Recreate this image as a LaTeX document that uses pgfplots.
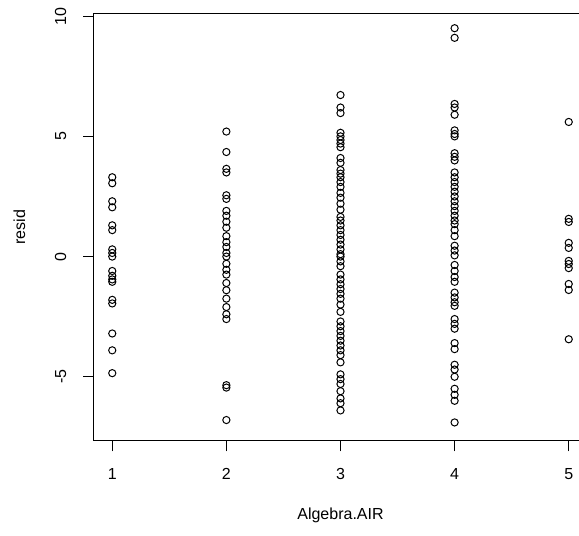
\documentclass[border=0pt]{standalone}
\usepackage{fontspec}
\setmainfont{Liberation Sans}
\usepackage{pgfplots}
\pgfplotsset{compat=1.18}
\begin{document}
\begin{tikzpicture}
\begin{axis}[
  scale only axis,
  width=369.75pt, height=320.55pt,
  xmin=0.84, xmax=5.16, ymin=-7.66, ymax=10.12,
  xtick={1,2,3,4,5}, ytick={-5,0,5,10},
  tick align=outside, major tick length=8pt,
  xtick pos=bottom, ytick pos=left,
  tick style={black, line width=0.75pt},
  axis line style={black, line width=0.75pt},
  /pgf/number format/assume math mode=true,
  font=\fontsize{12}{14}\selectfont,
  xticklabel style={anchor=center, yshift=-17pt},
  yticklabel style={rotate=90, anchor=center, yshift=17pt},
  xlabel={Algebra.AIR}, ylabel={resid},
  xlabel style={at={(axis description cs:0.5,-0.1755)}, anchor=center},
  ylabel style={at={(axis description cs:-0.1511,0.5)}, anchor=center, rotate=0},
  clip=false,
]
\addplot[only marks, mark=o, mark size=2.7pt, mark options={line width=0.75pt}, black] coordinates {
(1,3.3) (1,3.05) (1,2.3) (1,2.05) (1,1.3) (1,1.1) (1,0.3) (1,0.15) (1,0.0)
(1,-0.6) (1,-0.8) (1,-0.95) (1,-1.05) (1,-1.8) (1,-1.95) (1,-3.2) (1,-3.9) (1,-4.85)
(2,5.2) (2,4.35) (2,3.65) (2,3.5) (2,2.55) (2,2.4) (2,1.9) (2,1.7) (2,1.45) (2,1.2)
(2,0.85) (2,0.6) (2,0.4) (2,0.15) (2,0.0) (2,-0.3) (2,-0.55) (2,-0.75)
(2,-1.1) (2,-1.4) (2,-1.75) (2,-2.1) (2,-2.4) (2,-2.6) (2,-5.35) (2,-5.45) (2,-6.8)
(3,6.72) (3,6.2) (3,5.97) (3,5.15) (3,5.0) (3,4.85) (3,4.7) (3,4.55)
(3,4.1) (3,3.9) (3,3.6) (3,3.45) (3,3.3) (3,3.1) (3,2.9)
(3,2.65) (3,2.45) (3,2.2) (3,1.95)
(3,1.65) (3,1.5) (3,1.3) (3,1.1) (3,0.9) (3,0.7) (3,0.5) (3,0.3) (3,0.1)
(3,0.0) (3,-0.2) (3,-0.4)
(3,-0.75) (3,-0.95) (3,-1.15) (3,-1.35) (3,-1.55) (3,-1.75) (3,-2.0) (3,-2.3)
(3,-2.7) (3,-2.9) (3,-3.1) (3,-3.3) (3,-3.5) (3,-3.7) (3,-3.9) (3,-4.1) (3,-4.4)
(3,-4.9) (3,-5.1) (3,-5.3) (3,-5.6) (3,-5.9) (3,-6.1) (3,-6.4)
(4,9.5) (4,9.1) (4,6.35) (4,6.2) (4,5.9) (4,5.25) (4,5.1) (4,5.0)
(4,4.3) (4,4.15) (4,4.0)
(4,3.5) (4,3.3) (4,3.1) (4,2.9) (4,2.7) (4,2.5) (4,2.3) (4,2.1) (4,1.9) (4,1.7) (4,1.5) (4,1.35)
(4,1.1) (4,0.85) (4,0.45) (4,0.25) (4,0.05)
(4,-0.35) (4,-0.6) (4,-0.85) (4,-1.05)
(4,-1.5) (4,-1.7) (4,-1.9) (4,-2.05)
(4,-2.6) (4,-2.8) (4,-3.0) (4,-3.6) (4,-3.85)
(4,-4.5) (4,-4.7) (4,-5.0) (4,-5.5) (4,-5.75) (4,-6.0) (4,-6.9)
(5,5.6) (5,1.57) (5,1.44) (5,0.57) (5,0.36) (5,-0.18) (5,-0.31) (5,-0.48)
(5,-1.14) (5,-1.39) (5,-3.44)
};
\end{axis}
\pgfresetboundingbox
\path[use as bounding box] (-70.5pt,-70.73pt) rectangle (363.75pt,330.53pt);
\end{tikzpicture}
\end{document}
